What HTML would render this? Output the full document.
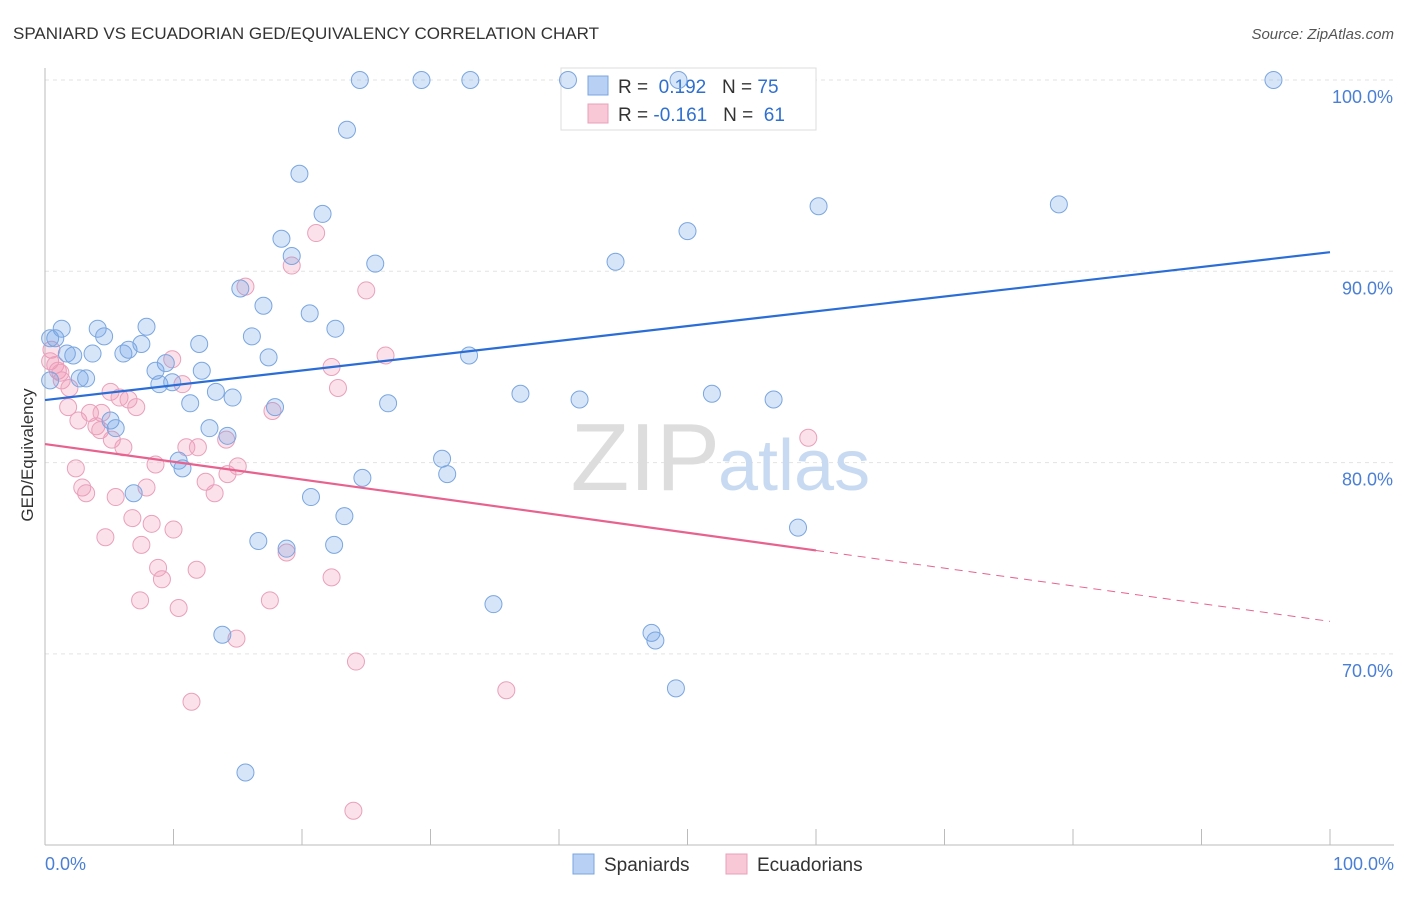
<!DOCTYPE html>
<html><head><meta charset="utf-8"><style>
body{margin:0;background:#fff;font-family:"Liberation Sans",sans-serif}
svg text{font-family:"Liberation Sans",sans-serif}
</style></head><body>
<svg width="1406" height="892">
<text x="13" y="39" font-size="17" fill="#333">SPANIARD VS ECUADORIAN GED/EQUIVALENCY CORRELATION CHART</text>
<text x="1394" y="39" font-size="15" fill="#555" text-anchor="end" font-style="italic">Source: ZipAtlas.com</text>
<g id="grid"></g>
<text x="720" y="490" font-size="96" fill="#ddd" text-anchor="end" font-family="Liberation Serif">ZIP</text>
<text x="718" y="490" font-size="72" fill="#c8daf2">atlas</text>
<g id="axes"></g>
<g>
<rect x="561" y="68" width="255" height="62" fill="#fff" stroke="#ddd"/>
<rect x="588" y="76" width="20" height="19" fill="#b7d0f3" stroke="#7aa6e0"/>
<rect x="588" y="104" width="20" height="19" fill="#f8c8d7" stroke="#e9a0bb"/>
<text x="618" y="93" font-size="19" fill="#333">R = <tspan fill="#2f6fd0">&#160;0.192</tspan>&#160;&#160;&#160;N = <tspan fill="#2f6fd0">75</tspan></text>
<text x="618" y="121" font-size="19" fill="#333">R = <tspan fill="#2f6fd0">-0.161</tspan>&#160;&#160;&#160;N = <tspan fill="#2f6fd0">&#160;61</tspan></text>
</g>
<g id="pts"></g>
<g id="lines"></g>
<text x="33" y="455" font-size="17" fill="#333" transform="rotate(-90 33 455)" text-anchor="middle">GED/Equivalency</text>
<text x="45" y="870" font-size="18" fill="#4a7fd4">0.0%</text>
<text x="1394" y="870" font-size="18" fill="#4a7fd4" text-anchor="end">100.0%</text>
<g>
<rect x="573" y="854" width="21" height="20" fill="#b7d0f3" stroke="#7aa6e0"/>
<text x="604" y="871" font-size="19" fill="#333">Spaniards</text>
<rect x="726" y="854" width="21" height="20" fill="#f8c8d7" stroke="#e9a0bb"/>
<text x="757" y="871" font-size="19" fill="#333">Ecuadorians</text>
</g>
</svg>
<script>
const blueX=[24.5,29.3,33.1,40.7,49.3,95.6,23.5,19.8,21.6,60.2,78.9,50.0,18.4,19.2,25.7,44.4,15.2,17.0,20.6,22.6,16.1,1.3,4.1,7.9,0.8,4.6,1.7,2.2,3.7,6.1,6.5,7.5,12.0,17.4,33.0,9.4,8.6,12.2,2.7,3.2,8.9,9.9,13.3,14.6,11.3,17.9,26.7,37.0,41.6,51.9,56.7,5.1,5.5,12.8,14.2,10.4,10.7,30.9,31.3,24.7,6.9,20.7,23.3,58.6,16.6,18.8,22.5,34.9,13.8,47.2,47.5,49.1,15.6,0.4,0.4];
const blueY=[100,100,100,100,100,100,97.4,95.1,93.0,93.4,93.5,92.1,91.7,90.8,90.4,90.5,89.1,88.2,87.8,87.0,86.6,87.0,87.0,87.1,86.5,86.6,85.7,85.6,85.7,85.7,85.9,86.2,86.2,85.5,85.6,85.2,84.8,84.8,84.4,84.4,84.1,84.2,83.7,83.4,83.1,82.9,83.1,83.6,83.3,83.6,83.3,82.2,81.8,81.8,81.4,80.1,79.7,80.2,79.4,79.2,78.4,78.2,77.2,76.6,75.9,75.5,75.7,72.6,71.0,71.1,70.7,68.2,63.8,84.3,86.5];
const pinkX=[21.1,19.2,25.0,15.6,0.5,0.4,1.0,1.3,1.9,9.9,22.3,26.5,10.7,22.8,5.1,5.8,6.5,7.1,1.8,2.6,3.5,4.4,4.0,4.3,5.2,6.1,11.0,11.9,14.1,17.7,59.4,2.4,8.6,15.0,12.5,14.2,2.9,3.2,7.9,5.5,13.2,6.8,8.3,10.0,4.7,7.5,18.8,8.8,9.1,11.8,22.3,7.4,10.4,17.5,14.9,24.2,35.9,11.4,24.0,0.8,1.2];
const pinkY=[92.0,90.3,89.0,89.2,85.9,85.3,84.8,84.3,83.9,85.4,85.0,85.6,84.1,83.9,83.7,83.4,83.3,82.9,82.9,82.2,82.6,82.6,81.9,81.7,81.2,80.8,80.8,80.8,81.2,82.7,81.3,79.7,79.9,79.8,79.0,79.4,78.7,78.4,78.7,78.2,78.4,77.1,76.8,76.5,76.1,75.7,75.3,74.5,73.9,74.4,74.0,72.8,72.4,72.8,70.8,69.6,68.1,67.5,61.8,85.1,84.7];
const yTicks=[100,90,80,70];
const yTickLabels=["100.0%","90.0%","80.0%","70.0%"];
const blueTrend=[83.27,91.0];
const pinkTrend=[80.97,71.7];
const pinkSolidEnd=60;
const NS="http://www.w3.org/2000/svg";
const sx=v=>45+v*12.85, sy=v=>80+(100-v)*19.13;
function mk(t,a,p){const e=document.createElementNS(NS,t);for(const k in a)e.setAttribute(k,a[k]);p.appendChild(e);return e;}
const grid=document.getElementById('grid'),axes=document.getElementById('axes'),pts=document.getElementById('pts'),lines=document.getElementById('lines');
yTicks.forEach((t,i)=>{
 const g=mk('line',{x1:45,x2:1394,y1:sy(t),y2:sy(t),stroke:'#e3e3e3','stroke-dasharray':'4,4'},grid);
 
 
 const l=mk('text',{x:1393,y:sy(t)+23,'font-size':18,fill:'#4a7fd4','text-anchor':'end'},grid);
 l.textContent=yTickLabels[i];
 
 
});
const ya=mk('line',{x1:45,x2:45,y1:68,y2:845,stroke:'#bbb'},axes);


const xa=mk('line',{x1:45,x2:1394,y1:845,y2:845,stroke:'#bbb'},axes);


for(let i=0;i<=10;i++){const t=mk('line',{x1:sx(i*10),x2:sx(i*10),y1:829,y2:845,stroke:'#bbb'},axes);
 
 }
function dots(X,Y,fill,stroke,name){X.forEach((x,i)=>{const c=mk('circle',{cx:sx(x),cy:sy(Y[i]),r:8.5,fill:fill,stroke:stroke,'stroke-width':1},pts);
 
 });}
dots(pinkX,pinkY,'rgba(240,150,180,0.28)','#e9a0bb','ecuadorian-point');
dots(blueX,blueY,'rgba(110,160,230,0.28)','#7aa6e0','spaniard-point');
const bl=mk('line',{x1:sx(0),y1:sy(blueTrend[0]),x2:sx(100),y2:sy(blueTrend[1]),stroke:'#2a6dd6','stroke-width':2.2},lines);


const pm=v=>pinkTrend[0]+(pinkTrend[1]-pinkTrend[0])*v/100;
const pl=mk('line',{x1:sx(0),y1:sy(pinkTrend[0]),x2:sx(pinkSolidEnd),y2:sy(pm(pinkSolidEnd)),stroke:'#e8628f','stroke-width':2.2},lines);


const pd=mk('line',{x1:sx(pinkSolidEnd),y1:sy(pm(pinkSolidEnd)),x2:sx(100),y2:sy(pinkTrend[1]),stroke:'#e8628f','stroke-width':1,'stroke-dasharray':'8,6'},lines);


</script>
</body></html>
